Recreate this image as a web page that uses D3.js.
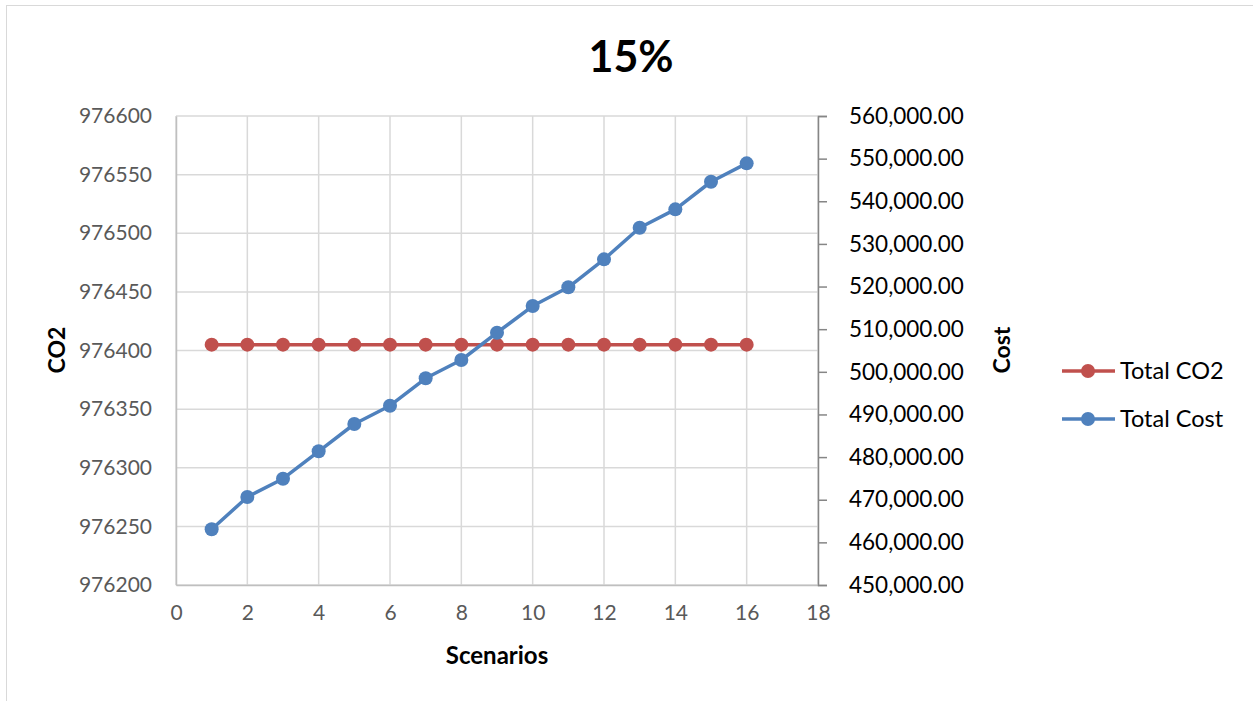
<!DOCTYPE html>
<html>
<head>
<meta charset="utf-8">
<script src="https://cdn.jsdelivr.net/npm/d3@7/dist/d3.min.js"></script>
<style>
  html, body { margin: 0; padding: 0; background: #fff; }
  svg { display: block; font-family: Lato, "Open Sans", sans-serif; }
</style>
</head>
<body>
<svg id="chart" width="1253" height="701"></svg>
<script>
// Scenario numbers on the x axis
const scenarios = [1, 2, 3, 4, 5, 6, 7, 8, 9, 10, 11, 12, 13, 14, 15, 16];
// Total CO2 per scenario (left axis)
const totalCO2 = [976405, 976405, 976405, 976405, 976405, 976405, 976405, 976405,
                  976405, 976405, 976405, 976405, 976405, 976405, 976405, 976405];
// Total cost per scenario (right axis)
const totalCost = [463060, 470640, 474930, 481360, 487760, 492050, 498480, 502770,
                   509170, 515430, 519820, 526380, 533800, 538110, 544580, 548900];
// Axis ticks
const xTicks = [0, 2, 4, 6, 8, 10, 12, 14, 16, 18];
const co2Ticks = [976200, 976250, 976300, 976350, 976400, 976450, 976500, 976550, 976600];
const costTicks = [450000, 460000, 470000, 480000, 490000, 500000, 510000, 520000, 530000, 540000, 550000, 560000];
const seriesNames = ["Total CO2", "Total Cost"];

const colors = { co2: "#C0504D", cost: "#4F81BD" };
const plot = { left: 176, right: 818, top: 116, bottom: 585 };

const svg = d3.select("#chart");

// outer chart frame
svg.append("rect")
  .attr("x", 6.5).attr("y", 5.5)
  .attr("width", 1260).attr("height", 710)
  .attr("fill", "#fff").attr("stroke", "#d9d9d9").attr("stroke-width", 1);

const x = d3.scaleLinear().domain([0, 18]).range([plot.left, plot.right]);
const yL = d3.scaleLinear().domain([976200, 976600]).range([plot.bottom, plot.top]);
const yR = d3.scaleLinear().domain([450000, 560000]).range([plot.bottom, plot.top]);

// gridlines
const grid = svg.append("g").attr("stroke", "#d9d9d9").attr("stroke-width", 1.5);
grid.selectAll("line.h").data(co2Ticks).join("line")
  .attr("x1", plot.left).attr("x2", plot.right)
  .attr("y1", d => yL(d)).attr("y2", d => yL(d));
grid.selectAll("line.v").data(xTicks).join("line")
  .attr("x1", d => x(d)).attr("x2", d => x(d))
  .attr("y1", plot.top).attr("y2", plot.bottom);

// left axis
const leftAxis = svg.append("g")
  .attr("transform", `translate(${plot.left},0)`)
  .call(d3.axisLeft(yL).tickValues(co2Ticks).tickFormat(d3.format("d")).tickSize(0).tickPadding(24));
leftAxis.select(".domain").attr("stroke", "#bfbfbf").attr("stroke-width", 1.5);
leftAxis.selectAll("text").attr("font-size", 21).attr("fill", "#595959").attr("font-family", "Lato, sans-serif");

// bottom axis
const bottomAxis = svg.append("g")
  .attr("transform", `translate(0,${plot.bottom})`)
  .call(d3.axisBottom(x).tickValues(xTicks).tickFormat(d3.format("d")).tickSize(0).tickPadding(20));
bottomAxis.select(".domain").attr("stroke", "#bfbfbf").attr("stroke-width", 1.5);
bottomAxis.selectAll("text").attr("font-size", 21).attr("fill", "#595959").attr("font-family", "Lato, sans-serif");

// right axis
const rightAxis = svg.append("g")
  .attr("transform", `translate(${plot.right},0)`)
  .call(d3.axisRight(yR).tickValues(costTicks).tickFormat(d3.format(",.2f")).tickSize(9).tickPadding(22));
rightAxis.select(".domain").attr("stroke", "#868686").attr("stroke-width", 1.5);
rightAxis.selectAll(".tick line").attr("stroke", "#868686").attr("stroke-width", 1.5);
rightAxis.selectAll("text").attr("font-size", 22.5).attr("fill", "#000").attr("font-family", "Lato, sans-serif");

// series
function drawSeries(values, scale, color) {
  const pts = scenarios.map((s, i) => [s, values[i]]);
  svg.append("path")
    .datum(pts)
    .attr("fill", "none")
    .attr("stroke", color)
    .attr("stroke-width", 3.5)
    .attr("stroke-linejoin", "round")
    .attr("d", d3.line().x(d => x(d[0])).y(d => scale(d[1])));
  svg.append("g").selectAll("circle").data(pts).join("circle")
    .attr("cx", d => x(d[0])).attr("cy", d => scale(d[1]))
    .attr("r", 7).attr("fill", color);
}
drawSeries(totalCO2, yL, colors.co2);
drawSeries(totalCost, yR, colors.cost);

// title
svg.append("text")
  .attr("x", 631).attr("y", 72)
  .attr("text-anchor", "middle")
  .attr("font-size", 43).attr("font-weight", "bold").attr("fill", "#000")
  .text("15%");

// axis titles
svg.append("text")
  .attr("x", 497).attr("y", 664)
  .attr("text-anchor", "middle")
  .attr("font-size", 24).attr("font-weight", "bold").attr("fill", "#000")
  .text("Scenarios");
svg.append("text")
  .attr("transform", "translate(65,350) rotate(-90)")
  .attr("text-anchor", "middle")
  .attr("font-size", 23).attr("font-weight", "bold").attr("fill", "#000")
  .text("CO2");
svg.append("text")
  .attr("transform", "translate(1010,350) rotate(-90)")
  .attr("text-anchor", "middle")
  .attr("font-size", 23).attr("font-weight", "bold").attr("fill", "#000")
  .text("Cost");

// legend
const legend = svg.append("g");
const legendY = [371, 419];
const legendColors = [colors.co2, colors.cost];
seriesNames.forEach((name, i) => {
  const g = legend.append("g").attr("transform", `translate(0,${legendY[i]})`);
  g.append("line").attr("x1", 1062).attr("x2", 1115).attr("y1", 0).attr("y2", 0)
    .attr("stroke", legendColors[i]).attr("stroke-width", 3.5);
  g.append("circle").attr("cx", 1088).attr("cy", 0).attr("r", 7).attr("fill", legendColors[i]);
  g.append("text").attr("x", 1120).attr("y", 0).attr("dy", "0.35em")
    .attr("font-size", 23.5).attr("fill", "#000").text(name);
});
</script>
</body>
</html>
